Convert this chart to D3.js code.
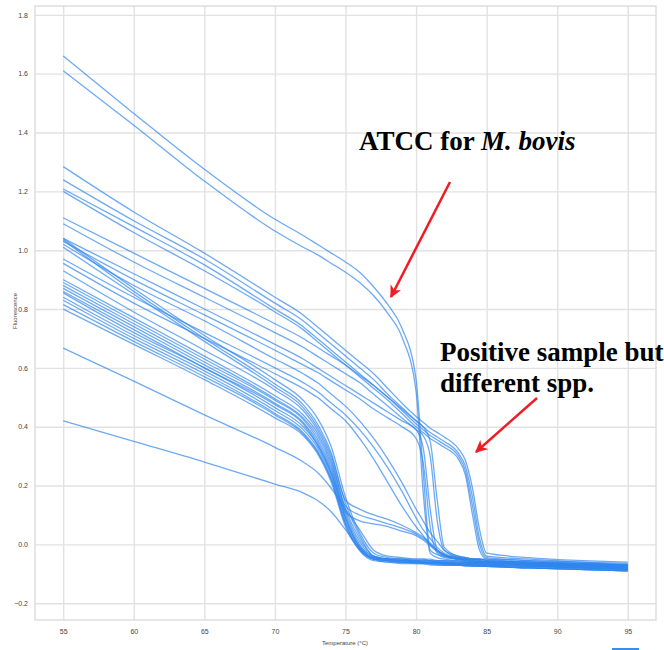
<!DOCTYPE html>
<html>
<head>
<meta charset="utf-8">
<script src="https://cdn.jsdelivr.net/npm/d3@7.9.0/dist/d3.min.js"></script>
<style>
  html, body { margin: 0; padding: 0; background: #fff; }
  svg { display: block; }
  .tick text { font-family: 'Liberation Sans Narrow', 'Liberation Sans', sans-serif; font-size: 7px; fill: #444; }
  .tick line { stroke: #e2e2e2; stroke-width: 1.4; }
  .note { font-family: 'Liberation Serif', 'Times New Roman', serif; font-weight: bold; font-size: 27px; fill: #000; }
</style>
</head>
<body>
<svg width="664" height="650"></svg>
<script>
// melt curve readings, one value per temperature step
const temps = [55, 60, 65, 70, 72, 73, 74, 75, 76, 77, 78, 79, 80, 80.5, 81, 81.5, 82, 83, 83.5, 84, 84.5, 85, 88, 95];

// ATCC reference strains (M. bovis)
const atccCurves = [
  [1.66,1.465,1.275,1.105,1.05,1.02,0.99,0.96,0.925,0.875,0.815,0.735,0.56,0.25,-0.02,-0.035,-0.04,-0.045,-0.045,-0.05,-0.05,-0.05,-0.055,-0.065],
  [1.61,1.425,1.235,1.065,1.01,0.985,0.955,0.925,0.89,0.845,0.785,0.705,0.52,0.18,-0.03,-0.045,-0.05,-0.055,-0.055,-0.06,-0.06,-0.06,-0.065,-0.075]
];

// positive samples, different species (late melt)
const otherSppCurves = [
  [1.284,1.13,0.99,0.84,0.78,0.74,0.70,0.66,0.62,0.58,0.53,0.48,0.435,0.415,0.395,0.38,0.365,0.325,0.285,0.19,0.05,-0.03,-0.045,-0.06],
  [1.239,1.10,0.97,0.82,0.76,0.72,0.68,0.64,0.60,0.56,0.51,0.465,0.42,0.40,0.38,0.365,0.35,0.31,0.265,0.16,0.02,-0.04,-0.05,-0.07],
  [1.208,1.08,0.95,0.80,0.74,0.70,0.66,0.62,0.58,0.54,0.50,0.455,0.41,0.39,0.37,0.355,0.34,0.30,0.25,0.13,0.0,-0.045,-0.055,-0.075],
  [1.20,1.06,0.93,0.79,0.73,0.69,0.65,0.61,0.57,0.53,0.49,0.445,0.40,0.38,0.36,0.345,0.33,0.29,0.235,0.10,-0.02,-0.05,-0.06,-0.08]
];

// samples melting around 81 C
const midCurves = [
  [1.11,0.99,0.87,0.75,0.70,0.67,0.64,0.61,0.575,0.54,0.50,0.46,0.42,0.40,0.35,0.15,-0.01,-0.04,-0.045,-0.05,-0.05,-0.055,-0.06,-0.07],
  [1.09,0.96,0.84,0.72,0.67,0.64,0.61,0.58,0.55,0.51,0.47,0.43,0.39,0.37,0.30,0.08,-0.02,-0.045,-0.05,-0.05,-0.055,-0.06,-0.065,-0.075],
  [1.04,0.92,0.80,0.68,0.63,0.60,0.57,0.54,0.51,0.48,0.45,0.42,0.39,0.33,0.12,-0.02,-0.04,-0.05,-0.05,-0.055,-0.06,-0.06,-0.07,-0.08],
  [1.03,0.90,0.78,0.66,0.61,0.585,0.555,0.525,0.495,0.46,0.43,0.40,0.36,0.28,0.06,-0.03,-0.045,-0.05,-0.055,-0.06,-0.06,-0.065,-0.07,-0.085]
];

// broad, gradual melts
const broadCurves = [
  [1.02,0.88,0.76,0.63,0.58,0.55,0.51,0.47,0.42,0.36,0.29,0.21,0.12,0.08,0.04,0.01,-0.02,-0.04,-0.045,-0.05,-0.05,-0.055,-0.06,-0.07],
  [0.97,0.84,0.72,0.60,0.55,0.52,0.48,0.44,0.39,0.33,0.26,0.18,0.09,0.05,0.02,-0.01,-0.03,-0.045,-0.05,-0.05,-0.055,-0.06,-0.065,-0.08],
  [0.955,0.82,0.70,0.58,0.53,0.50,0.46,0.42,0.36,0.29,0.21,0.13,0.06,0.03,0.0,-0.02,-0.035,-0.05,-0.05,-0.055,-0.06,-0.06,-0.07,-0.085]
];

// main cluster melting around 74 C
const earlyCurves = [
  [1.04,0.87,0.71,0.56,0.49,0.43,0.33,0.16,0.04,-0.03,-0.045,-0.05,-0.05,-0.05,-0.055,-0.055,-0.055,-0.06,-0.06,-0.06,-0.06,-0.06,-0.065,-0.07],
  [1.035,0.86,0.70,0.545,0.475,0.41,0.31,0.15,0.12,0.10,0.085,0.065,0.04,0.025,0.005,-0.02,-0.035,-0.045,-0.05,-0.05,-0.05,-0.055,-0.06,-0.07],
  [1.01,0.85,0.69,0.535,0.465,0.40,0.30,0.14,0.03,-0.04,-0.05,-0.055,-0.055,-0.06,-0.06,-0.06,-0.06,-0.065,-0.065,-0.065,-0.065,-0.07,-0.07,-0.08],
  [0.93,0.79,0.66,0.525,0.455,0.39,0.29,0.13,0.10,0.085,0.07,0.055,0.035,0.02,0.0,-0.02,-0.035,-0.05,-0.05,-0.055,-0.055,-0.06,-0.065,-0.075],
  [0.90,0.77,0.64,0.505,0.44,0.38,0.28,0.12,0.02,-0.04,-0.05,-0.055,-0.06,-0.06,-0.06,-0.06,-0.065,-0.065,-0.065,-0.07,-0.07,-0.07,-0.075,-0.085],
  [0.89,0.76,0.63,0.495,0.43,0.37,0.27,0.11,0.01,-0.045,-0.055,-0.06,-0.06,-0.06,-0.065,-0.065,-0.065,-0.07,-0.07,-0.07,-0.07,-0.075,-0.08,-0.09],
  [0.88,0.75,0.62,0.49,0.425,0.36,0.26,0.11,0.08,0.07,0.06,0.045,0.03,0.015,-0.005,-0.025,-0.04,-0.05,-0.055,-0.055,-0.06,-0.06,-0.065,-0.075],
  [0.87,0.74,0.61,0.48,0.415,0.35,0.25,0.10,0.0,-0.05,-0.055,-0.06,-0.06,-0.065,-0.065,-0.065,-0.07,-0.07,-0.07,-0.07,-0.075,-0.075,-0.08,-0.09],
  [0.86,0.73,0.60,0.475,0.41,0.34,0.24,0.09,-0.005,-0.04,-0.05,-0.05,-0.055,-0.055,-0.055,-0.06,-0.06,-0.06,-0.06,-0.065,-0.065,-0.065,-0.07,-0.08],
  [0.855,0.72,0.60,0.465,0.40,0.34,0.24,0.09,-0.01,-0.05,-0.06,-0.06,-0.065,-0.065,-0.065,-0.07,-0.07,-0.07,-0.07,-0.075,-0.075,-0.075,-0.08,-0.09],
  [0.84,0.71,0.59,0.455,0.39,0.33,0.23,0.08,-0.01,-0.045,-0.05,-0.055,-0.055,-0.06,-0.06,-0.06,-0.06,-0.065,-0.065,-0.065,-0.065,-0.07,-0.075,-0.085],
  [0.83,0.70,0.58,0.445,0.38,0.32,0.22,0.07,-0.015,-0.05,-0.055,-0.06,-0.06,-0.06,-0.065,-0.065,-0.065,-0.065,-0.07,-0.07,-0.07,-0.07,-0.075,-0.085],
  [0.815,0.69,0.57,0.44,0.375,0.315,0.22,0.07,-0.02,-0.055,-0.06,-0.065,-0.065,-0.065,-0.07,-0.07,-0.07,-0.07,-0.075,-0.075,-0.075,-0.075,-0.08,-0.09],
  [0.80,0.68,0.56,0.43,0.37,0.31,0.21,0.06,-0.02,-0.05,-0.055,-0.055,-0.06,-0.06,-0.06,-0.06,-0.065,-0.065,-0.065,-0.065,-0.07,-0.07,-0.075,-0.085]
];

// low starting fluorescence
const lowCurves = [
  [0.667,0.555,0.44,0.33,0.28,0.245,0.19,0.12,0.05,-0.02,-0.04,-0.045,-0.05,-0.05,-0.05,-0.055,-0.055,-0.055,-0.06,-0.06,-0.06,-0.06,-0.065,-0.075],
  [0.42,0.35,0.28,0.205,0.175,0.15,0.11,0.05,-0.015,-0.045,-0.05,-0.05,-0.055,-0.055,-0.055,-0.06,-0.06,-0.06,-0.06,-0.065,-0.065,-0.065,-0.07,-0.08]
];

const xTicks = [55, 60, 65, 70, 75, 80, 85, 90, 95];
const yTicks = [-0.2, 0.0, 0.2, 0.4, 0.6, 0.8, 1.0, 1.2, 1.4, 1.6, 1.8];

const svg = d3.select('svg');

let x = d3.scaleLinear().domain([53, 97]).range([35, 656]);
let y = d3.scaleLinear().domain([-0.257, 1.83]).range([620, 6]);

// frame + grid
svg.append('g')
  .attr('transform', 'translate(0,620)')
  .call(d3.axisBottom(x).tickValues(xTicks).tickSize(-614).tickPadding(9).tickFormat(d3.format('d')))
  .call(g => g.select('.domain').remove());

svg.append('g')
  .attr('transform', 'translate(35,0)')
  .call(d3.axisLeft(y).tickValues(yTicks).tickSize(-621).tickPadding(7).tickFormat(d3.format('.1f')))
  .call(g => g.select('.domain').remove());

svg.append('rect')
  .attr('x', x(53)).attr('y', y(1.83))
  .attr('width', x(97) - x(53)).attr('height', y(-0.257) - y(1.83))
  .attr('fill', 'none').attr('stroke', '#d9d9d9').attr('stroke-width', 1.3);

// axis titles
svg.append('text')
  .attr('x', 345).attr('y', 645)
  .attr('text-anchor', 'middle')
  .style('font-family', 'Liberation Sans Narrow, Liberation Sans, sans-serif')
  .style('font-size', '6px').style('fill', '#444')
  .text('Temperature (°C)');

svg.append('text')
  .attr('transform', 'translate(17,311) rotate(-90)')
  .attr('text-anchor', 'middle')
  .style('font-family', 'Liberation Sans Narrow, Liberation Sans, sans-serif')
  .style('font-size', '6px').style('fill', '#444')
  .text('Fluorescence');

// curves
let line = d3.line()
  .x(d => x(d[0]))
  .y(d => y(d[1]))
  .curve(d3.curveMonotoneX);

let allCurves = [].concat(earlyCurves, lowCurves, broadCurves, midCurves, otherSppCurves, atccCurves);

svg.append('g')
  .selectAll('path')
  .data(allCurves)
  .join('path')
  .attr('d', vals => line(temps.map((t, i) => [t, vals[i]])))
  .attr('fill', 'none')
  .attr('stroke', '#2f86ee')
  .attr('stroke-width', 1.3)
  .attr('stroke-opacity', 0.7);

// annotations
svg.append('defs').append('marker')
  .attr('id', 'head')
  .attr('viewBox', '0 0 10 10')
  .attr('refX', 9).attr('refY', 5)
  .attr('markerWidth', 5).attr('markerHeight', 5)
  .attr('orient', 'auto')
  .append('path')
  .attr('d', 'M0,0 L10,5 L0,10 L3,5 z')
  .attr('fill', '#ee1c24');

let arrows = [[450, 182, 391, 297], [537, 398, 476, 452]];
svg.selectAll('line.arrow')
  .data(arrows)
  .join('line')
  .attr('class', 'arrow')
  .attr('x1', d => d[0]).attr('y1', d => d[1])
  .attr('x2', d => d[2]).attr('y2', d => d[3])
  .attr('stroke', '#ee1c24')
  .attr('stroke-width', 2.5)
  .attr('marker-end', 'url(#head)');

let t1 = svg.append('text').attr('class', 'note').attr('x', 359).attr('y', 150);
t1.append('tspan').text('ATCC for ');
t1.append('tspan').style('font-style', 'italic').text('M. bovis');

svg.append('text').attr('class', 'note').attr('x', 440).attr('y', 361).text('Positive sample but');
svg.append('text').attr('class', 'note').attr('x', 440).attr('y', 392).text('different spp.');

// small mark under the frame
svg.append('line')
  .attr('x1', 612).attr('x2', 639).attr('y1', 649).attr('y2', 649)
  .attr('stroke', '#3b8ee8').attr('stroke-width', 2);
</script>
</body>
</html>
